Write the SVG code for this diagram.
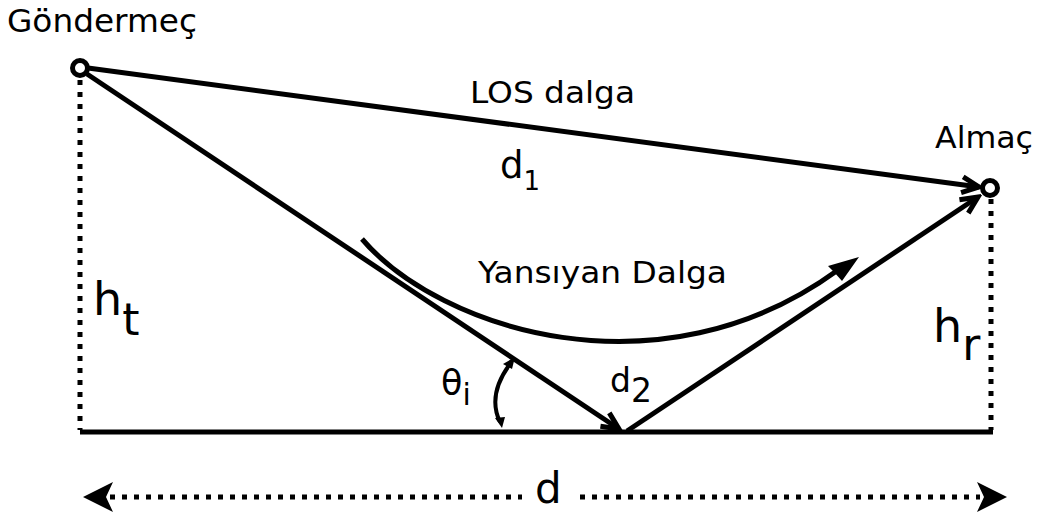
<svg xmlns="http://www.w3.org/2000/svg" width="1038" height="515" viewBox="0 0 1038 515">
<style>
.t{font-family:"DejaVu Sans","Liberation Sans",sans-serif;fill:#000}
.ln{stroke:#000;stroke-width:5;fill:none}
.dot{stroke:#000;stroke-width:5;fill:none;stroke-dasharray:5 7}
.node{fill:#fff;stroke:#000;stroke-width:5}
</style>
<defs>
<marker id="v" viewBox="0 0 24 24" refX="20" refY="12" markerWidth="24" markerHeight="24" orient="auto" markerUnits="userSpaceOnUse">
<path d="M3,4 L20,12 L3,20" fill="none" stroke="#000" stroke-width="5" stroke-linejoin="miter"/>
</marker>
</defs>
<rect width="1038" height="515" fill="#fff"/>
<g id="connectors">
<line class="ln" x1="80" y1="432" x2="993" y2="432"/>
<line class="dot" x1="80" y1="80" x2="80" y2="430"/>
<line class="dot" x1="991" y1="199" x2="991" y2="430"/>
<line class="ln" x1="88" y1="68" x2="979" y2="187" marker-end="url(#v)"/>
<line class="ln" x1="87" y1="74" x2="619" y2="429" marker-end="url(#v)"/>
<line class="ln" x1="627" y1="431" x2="978" y2="197" marker-end="url(#v)"/>
<path class="ln" d="M362,239 C440,330 660,400 838,270"/>
<path d="M859,257 L828,266 L834,272 L842,281 Z" fill="#000"/>
<path d="M510,364 Q487,395 500,422" fill="none" stroke="#000" stroke-width="4"/>
<path d="M515,357 L503,364 L512,369 Z" fill="#000"/>
<path d="M502,428 L495,418 L505,417 Z" fill="#000"/>
<line class="dot" x1="110" y1="497" x2="522" y2="497"/>
<line class="dot" x1="580" y1="497" x2="980" y2="497"/>
<path d="M83,497 L113,482 L106,497 L113,512 Z" fill="#000"/>
<path d="M1007,497 L977,482 L984,497 L977,512 Z" fill="#000"/>
</g>
<g id="tx"><circle class="node" cx="80" cy="68" r="7.5"/><text class="t" x="7" y="32" font-size="32" textLength="190" lengthAdjust="spacingAndGlyphs">Göndermeç</text></g>
<g id="rx"><circle class="node" cx="990" cy="188" r="7.5"/><text class="t" x="935" y="148" font-size="31" textLength="98" lengthAdjust="spacingAndGlyphs">Almaç</text></g>
<g id="los"><text class="t" x="470" y="103" font-size="30" textLength="165" lengthAdjust="spacingAndGlyphs">LOS dalga</text></g>
<g id="d1"><text class="t" x="500" y="178" font-size="37">d<tspan font-size="26" dy="12">1</tspan></text></g>
<g id="refl"><text class="t" x="478" y="283" font-size="30" textLength="249" lengthAdjust="spacingAndGlyphs">Yansıyan Dalga</text></g>
<g id="ht"><text class="t" x="93" y="315" font-size="46">h<tspan font-size="44" dy="20">t</tspan></text></g>
<g id="hr"><text class="t" x="933" y="342" font-size="46">h<tspan font-size="44" dy="18">r</tspan></text></g>
<g id="theta"><text class="t" x="441" y="395" font-size="35">θ<tspan font-size="30" dy="10">i</tspan></text></g>
<g id="d2"><text class="t" x="610" y="392" font-size="33">d<tspan font-size="33" dy="10">2</tspan></text></g>
<g id="dist"><text class="t" x="535" y="503" font-size="42">d</text></g>
</svg>
